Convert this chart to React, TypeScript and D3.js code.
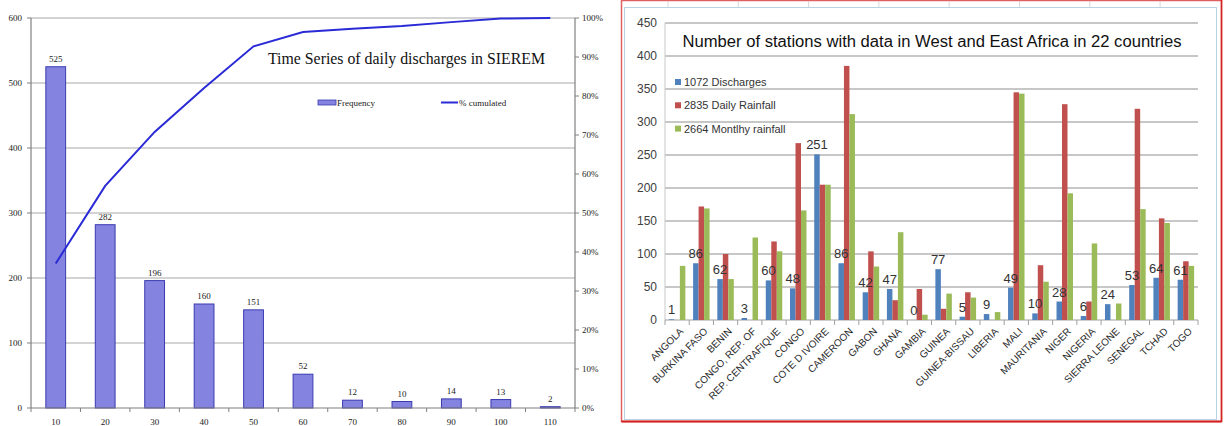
import React from "react";
import * as d3 from "d3";

// ---- Left chart: daily discharge series length distribution ----
const binLabels = ["10", "20", "30", "40", "50", "60", "70", "80", "90", "100", "110"];
const frequency = [525, 282, 196, 160, 151, 52, 12, 10, 14, 13, 2];
const leftTicks = [0, 100, 200, 300, 400, 500, 600];
const pctTicks = [0, 0.1, 0.2, 0.3, 0.4, 0.5, 0.6, 0.7, 0.8, 0.9, 1];

// ---- Right chart: stations per country ----
const countries = [
  "ANGOLA", "BURKINA FASO", "BENIN", "CONGO, REP. OF", "REP. CENTRAFIQUE", "CONGO",
  "COTE D IVOIRE", "CAMEROON", "GABON", "GHANA", "GAMBIA", "GUINEA", "GUINEA-BISSAU",
  "LIBERIA", "MALI", "MAURITANIA", "NIGER", "NIGERIA", "SIERRA LEONE", "SENEGAL",
  "TCHAD", "TOGO",
];
const discharges = [1, 86, 62, 3, 60, 48, 251, 86, 42, 47, 0, 77, 5, 9, 49, 10, 28, 6, 24, 53, 64, 61];
const dailyRainfall = [0, 172, 100, 0, 119, 268, 205, 385, 104, 30, 47, 17, 42, 0, 345, 83, 327, 28, 0, 320, 154, 89];
const monthlyRainfall = [82, 169, 62, 125, 104, 166, 205, 312, 81, 133, 8, 40, 34, 12, 343, 58, 192, 116, 25, 168, 147, 82];
const seriesNames = ["1072 Discharges", "2835 Daily Rainfall", "2664 Montlhy rainfall"];
const seriesColors = ["#4F81BD", "#C0504D", "#9BBB59"];
const rightTicks = [0, 50, 100, 150, 200, 250, 300, 350, 400, 450];

const serif = "'Liberation Serif', 'Times New Roman', serif";
const sans = "'Liberation Sans', Arial, sans-serif";

function LeftChart() {
  const x = d3.scaleBand<string>().domain(binLabels).range([31, 575]).paddingInner(0.6).paddingOuter(0.3);
  const y = d3.scaleLinear().domain([0, 600]).range([408, 18]);
  const yPct = d3.scaleLinear().domain([0, 1]).range([408, 18]);
  const total = d3.sum(frequency);
  const cumulative = d3.cumsum(frequency).map((v) => v / total);
  const line = d3
    .line<number>()
    .x((_, i) => (x(binLabels[i]) as number) + x.bandwidth() / 2)
    .y((d) => yPct(d));
  const step = x.step();
  const x0 = 31;

  return (
    <g>
      {leftTicks.filter((t) => t > 0).map((t) => (
        <line key={t} x1={31} x2={575} y1={y(t)} y2={y(t)} stroke="#a8a8a8" strokeWidth={1.2} />
      ))}
      {frequency.map((v, i) => (
        <rect
          key={i}
          x={x(binLabels[i])}
          y={y(v)}
          width={x.bandwidth()}
          height={y(0) - y(v)}
          fill="#8484e0"
          stroke="#3a3ab0"
          strokeWidth={1}
        />
      ))}
      {frequency.map((v, i) => (
        <text
          key={i}
          x={(x(binLabels[i]) as number) + x.bandwidth() / 2}
          y={y(v) - 5}
          textAnchor="middle"
          fontFamily={serif}
          fontSize={9}
          fill="#222"
        >
          {v}
        </text>
      ))}
      {/* axes */}
      <line x1={31} x2={31} y1={18} y2={408} stroke="#808080" strokeWidth={1.2} />
      <line x1={575} x2={575} y1={18} y2={408} stroke="#808080" strokeWidth={1.2} />
      <line x1={31} x2={575} y1={408} y2={408} stroke="#808080" strokeWidth={1.2} />
      {leftTicks.map((t) => (
        <g key={t}>
          <line x1={27} x2={31} y1={y(t)} y2={y(t)} stroke="#808080" />
          <text x={22} y={y(t) + 3} textAnchor="end" fontFamily={serif} fontSize={9} fill="#222">
            {t}
          </text>
        </g>
      ))}
      {pctTicks.map((t) => (
        <g key={t}>
          <line x1={575} x2={579} y1={yPct(t)} y2={yPct(t)} stroke="#808080" />
          <text x={582} y={yPct(t) + 3} fontFamily={serif} fontSize={9} fill="#222">
            {d3.format(".0%")(t)}
          </text>
        </g>
      ))}
      {d3.range(binLabels.length + 1).map((i) => (
        <line key={i} x1={x0 + i * step} x2={x0 + i * step} y1={408} y2={412} stroke="#808080" />
      ))}
      {binLabels.map((b) => (
        <text
          key={b}
          x={(x(b) as number) + x.bandwidth() / 2}
          y={425}
          textAnchor="middle"
          fontFamily={serif}
          fontSize={9}
          fill="#222"
        >
          {b}
        </text>
      ))}
      <path d={line(cumulative) || ""} fill="none" stroke="#2a2ad6" strokeWidth={2} />
      {/* title and legend */}
      <text x={268} y={64} fontFamily={serif} fontSize={16} fill="#111" textLength={277} lengthAdjust="spacingAndGlyphs">
        Time Series of daily discharges in SIEREM
      </text>
      <rect x={318} y={100} width={18} height={5} fill="#8484e0" stroke="#3a3ab0" strokeWidth={0.8} />
      <text x={337} y={105.5} fontFamily={serif} fontSize={9} fill="#222">
        Frequency
      </text>
      <line x1={441} x2={458} y1={102.5} y2={102.5} stroke="#2a2ad6" strokeWidth={2} />
      <text x={459} y={105.5} fontFamily={serif} fontSize={9} fill="#222">
        % cumulated
      </text>
    </g>
  );
}

function RightChart() {
  const x0 = d3.scaleBand<string>().domain(countries).range([665, 1198]).paddingInner(0.32).paddingOuter(0.16);
  const x1 = d3.scaleBand<number>().domain([0, 1, 2]).range([0, x0.bandwidth()]);
  const y = d3.scaleLinear().domain([0, 450]).range([320, 23]);
  const series = [discharges, dailyRainfall, monthlyRainfall];
  const step = x0.step();

  return (
    <g>
      {/* sheet frame */}
      <rect x={621.5} y={0.5} width={600} height={421} fill="#fff" stroke="#e06060" strokeWidth={1.5} />
      <line x1={621.5} x2={1221.5} y1={421.5} y2={421.5} stroke="#d42020" strokeWidth={2} />
      <line x1={1221.5} x2={1221.5} y1={0} y2={422} stroke="#d42020" strokeWidth={1.5} />
      {d3.range(8).map((i) => (
        <line key={i} x1={668 + i * 70.3} x2={668 + i * 70.3} y1={1} y2={7} stroke="#d8d8d8" />
      ))}
      <rect x={624.5} y={7.5} width={592} height={412} fill="none" stroke="#b8d4e4" strokeWidth={1} />
      {rightTicks.map((t) => (
        <g key={t}>
          {t > 0 && <line x1={665} x2={1198} y1={y(t)} y2={y(t)} stroke="#b4b4b4" strokeWidth={1.6} />}
          <text x={657} y={y(t) + 4} textAnchor="end" fontFamily={sans} fontSize={12} fill="#404040">
            {t}
          </text>
        </g>
      ))}
      <line x1={665} x2={665} y1={23} y2={320} stroke="#c8c8c8" strokeWidth={1} />
      <line x1={665} x2={1198} y1={320} y2={320} stroke="#a0a0a0" strokeWidth={1.2} />
      {d3.range(countries.length + 1).map((i) => (
        <line key={i} x1={665 + i * step} x2={665 + i * step} y1={320} y2={325} stroke="#a0a0a0" />
      ))}
      {series.map((vals, s) =>
        vals.map((v, i) =>
          v > 0 ? (
            <rect
              key={`${s}-${i}`}
              x={(x0(countries[i]) as number) + (x1(s) as number)}
              y={y(v)}
              width={x1.bandwidth()}
              height={y(0) - y(v)}
              fill={seriesColors[s]}
            />
          ) : null
        )
      )}
      {discharges.map((v, i) => (
        <text
          key={i}
          x={(x0(countries[i]) as number) + (x1(0) as number) + x1.bandwidth() / 2}
          y={y(v) - 5}
          textAnchor="middle"
          fontFamily={sans}
          fontSize={13}
          fill="#333"
        >
          {v}
        </text>
      ))}
      {countries.map((c) => {
        const cx = (x0(c) as number) + x0.bandwidth() / 2 + 2;
        return (
          <text
            key={c}
            transform={`translate(${cx},${327}) rotate(-45)`}
            textAnchor="end"
            dy="0.7em"
            fontFamily={sans}
            fontSize={10}
            fill="#2a2a2a"
          >
            {c}
          </text>
        );
      })}
      <text
        x={932}
        y={47}
        textAnchor="middle"
        fontFamily={sans}
        fontSize={16}
        fill="#111"
        textLength={499}
        lengthAdjust="spacingAndGlyphs"
      >
        Number of stations with data in West and East Africa in 22 countries
      </text>
      {seriesNames.map((n, i) => (
        <g key={n}>
          <rect x={675} y={82 + i * 23.3 - 3} width={6} height={6} fill={seriesColors[i]} />
          <text x={684} y={82 + i * 23.3 + 4} fontFamily={sans} fontSize={11} fill="#333">
            {n}
          </text>
        </g>
      ))}
    </g>
  );
}

export default function App() {
  return (
    <svg
      width={1232}
      height={426}
      style={{ position: "absolute", left: 0, top: 0, background: "#fff" }}
    >
      <rect width={1232} height={426} fill="#fff" />
      <LeftChart />
      <RightChart />
    </svg>
  );
}
